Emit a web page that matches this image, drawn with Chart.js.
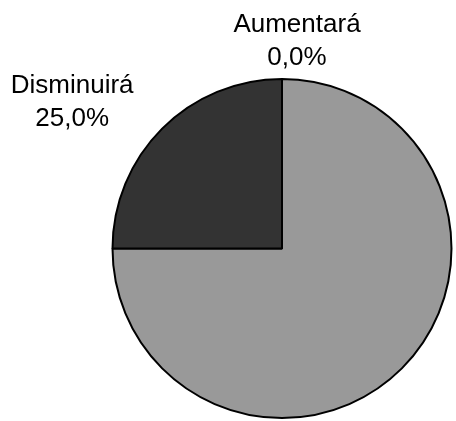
<!DOCTYPE html>
<html>
<head>
<meta charset="utf-8">
<script src="https://cdn.jsdelivr.net/npm/chart.js@4.4.1/dist/chart.umd.min.js"></script>
<style>
  html, body { margin: 0; padding: 0; background: #ffffff; }
  #wrap { width: 456px; height: 421px; position: relative; }
</style>
</head>
<body>
<div id="wrap"><canvas id="c" width="456" height="421"></canvas></div>
<script>
// ---- data ----
const categories = ["Aumentará", "Se mantendrá", "Disminuirá"];
const values = [0.0, 75.0, 25.0];
const showLabel = [true, false, true];
const sliceColors = ["#ffffff", "#999999", "#333333"];

// label text offsets from the arc's outer mid point (layout only)
const labelOffsets = [[15, -14], [0, 0], [-90, -3]];

const fmt = v => v.toFixed(1).replace('.', ',') + '%';

const outsideLabels = {
  id: 'outsideLabels',
  afterDatasetsDraw(chart) {
    const ctx = chart.ctx;
    const meta = chart.getDatasetMeta(0);
    ctx.save();
    ctx.font = '26px "Liberation Sans", Arial, sans-serif';
    ctx.fillStyle = '#000000';
    ctx.textAlign = 'center';
    ctx.textBaseline = 'alphabetic';
    meta.data.forEach((arc, i) => {
      if (!showLabel[i]) return;
      const p = arc.getProps(['x', 'y', 'startAngle', 'endAngle', 'outerRadius'], true);
      const mid = (p.startAngle + p.endAngle) / 2;
      const ax = p.x + Math.cos(mid) * p.outerRadius + labelOffsets[i][0];
      const ay = p.y + Math.sin(mid) * p.outerRadius + labelOffsets[i][1];
      ctx.fillText(categories[i], ax, ay - 33);
      ctx.fillText(fmt(values[i]), ax, ay);
    });
    ctx.restore();
  }
};

new Chart(document.getElementById('c'), {
  type: 'pie',
  data: {
    labels: categories,
    datasets: [{
      data: values,
      backgroundColor: sliceColors,
      borderColor: '#000000',
      borderWidth: 2
    }]
  },
  options: {
    responsive: false,
    animation: false,
    layout: { padding: { left: 111, right: 3, top: 78, bottom: 2 } },
    plugins: {
      legend: { display: false },
      tooltip: { enabled: false },
      title: { display: false }
    }
  },
  plugins: [outsideLabels]
});
</script>
</body>
</html>
